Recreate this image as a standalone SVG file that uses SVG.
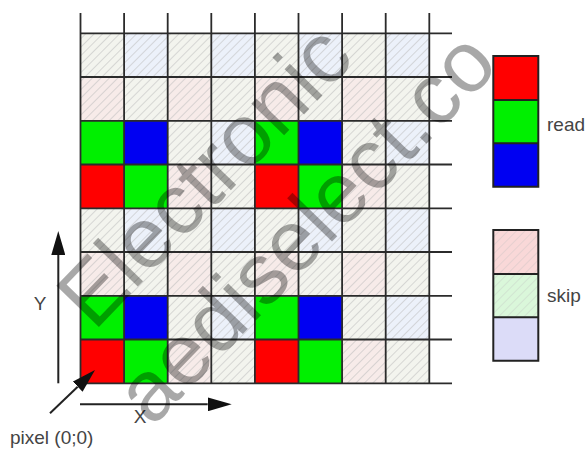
<svg xmlns="http://www.w3.org/2000/svg" width="587" height="450" viewBox="0 0 587 450">
<style>
.lbl{font-family:"Liberation Sans",Arial,sans-serif;font-size:19px;fill:#444}
.gl{stroke:#2b2b2b;stroke-width:1.8;fill:none}
.ax{stroke:#222;stroke-width:2;fill:none}
.fR{fill:#f7ebe9}.fG{fill:#f3f4ee}.fB{fill:#ecf1fa}
.sR{fill:#ff0000}.sG{fill:#00f000}.sB{fill:#0000f2}
.lR{fill:#f9d8d8}.lG{fill:#daf7da}.lB{fill:#dcdcf8}
.box{fill:none;stroke:#222;stroke-width:2}
.wm{font-family:"Liberation Sans",Arial,sans-serif;font-size:86px;fill:#000;fill-opacity:0.34}
</style>
<defs>
<pattern id="hatch" patternUnits="userSpaceOnUse" width="6" height="6" patternTransform="rotate(45)">
<line x1="0" y1="0" x2="0" y2="6" stroke="#bdbdbd" stroke-width="1.1"/>
</pattern>
<marker id="ah" markerUnits="userSpaceOnUse" viewBox="0 -7 24 14" markerWidth="24" markerHeight="14" refX="0" refY="0" orient="auto">
<path d="M0,-7 L24,0 L0,7 Z" fill="#111"/>
</marker>
</defs>
<rect width="587" height="450" fill="#fff"/>
<g id="grid">
<g id="tints">
<rect class="fG" x="80.5" y="33.3" width="43.6" height="43.75"/><rect class="fB" x="124.1" y="33.3" width="43.6" height="43.75"/><rect class="fG" x="167.7" y="33.3" width="43.6" height="43.75"/><rect class="fB" x="211.3" y="33.3" width="43.6" height="43.75"/><rect class="fG" x="254.9" y="33.3" width="43.6" height="43.75"/><rect class="fB" x="298.5" y="33.3" width="43.6" height="43.75"/><rect class="fG" x="342.1" y="33.3" width="43.6" height="43.75"/><rect class="fB" x="385.7" y="33.3" width="43.6" height="43.75"/>
<rect class="fR" x="80.5" y="77" width="43.6" height="43.8"/><rect class="fG" x="124.1" y="77" width="43.6" height="43.8"/><rect class="fR" x="167.7" y="77" width="43.6" height="43.8"/><rect class="fG" x="211.3" y="77" width="43.6" height="43.8"/><rect class="fR" x="254.9" y="77" width="43.6" height="43.8"/><rect class="fG" x="298.5" y="77" width="43.6" height="43.8"/><rect class="fR" x="342.1" y="77" width="43.6" height="43.8"/><rect class="fG" x="385.7" y="77" width="43.6" height="43.8"/>
<rect class="fG" x="167.7" y="120.8" width="43.6" height="43.7"/><rect class="fB" x="211.3" y="120.8" width="43.6" height="43.7"/><rect class="fG" x="342.1" y="120.8" width="43.6" height="43.7"/><rect class="fB" x="385.7" y="120.8" width="43.6" height="43.7"/>
<rect class="fR" x="167.7" y="164.5" width="43.6" height="43.8"/><rect class="fG" x="211.3" y="164.5" width="43.6" height="43.8"/><rect class="fR" x="342.1" y="164.5" width="43.6" height="43.8"/><rect class="fG" x="385.7" y="164.5" width="43.6" height="43.8"/>
<rect class="fG" x="80.5" y="208.3" width="43.6" height="43.7"/><rect class="fB" x="124.1" y="208.3" width="43.6" height="43.7"/><rect class="fG" x="167.7" y="208.3" width="43.6" height="43.7"/><rect class="fB" x="211.3" y="208.3" width="43.6" height="43.7"/><rect class="fG" x="254.9" y="208.3" width="43.6" height="43.7"/><rect class="fB" x="298.5" y="208.3" width="43.6" height="43.7"/><rect class="fG" x="342.1" y="208.3" width="43.6" height="43.7"/><rect class="fB" x="385.7" y="208.3" width="43.6" height="43.7"/>
<rect class="fR" x="80.5" y="252" width="43.6" height="43.8"/><rect class="fG" x="124.1" y="252" width="43.6" height="43.8"/><rect class="fR" x="167.7" y="252" width="43.6" height="43.8"/><rect class="fG" x="211.3" y="252" width="43.6" height="43.8"/><rect class="fR" x="254.9" y="252" width="43.6" height="43.8"/><rect class="fG" x="298.5" y="252" width="43.6" height="43.8"/><rect class="fR" x="342.1" y="252" width="43.6" height="43.8"/><rect class="fG" x="385.7" y="252" width="43.6" height="43.8"/>
<rect class="fG" x="167.7" y="295.8" width="43.6" height="43.7"/><rect class="fB" x="211.3" y="295.8" width="43.6" height="43.7"/><rect class="fG" x="342.1" y="295.8" width="43.6" height="43.7"/><rect class="fB" x="385.7" y="295.8" width="43.6" height="43.7"/>
<rect class="fR" x="167.7" y="339.5" width="43.6" height="43.8"/><rect class="fG" x="211.3" y="339.5" width="43.6" height="43.8"/><rect class="fR" x="342.1" y="339.5" width="43.6" height="43.8"/><rect class="fG" x="385.7" y="339.5" width="43.6" height="43.8"/>
</g>
<rect x="80.5" y="33.3" width="348.8" height="350" fill="url(#hatch)"/>
<g id="read-cells">
<rect class="sG" x="80.5" y="120.8" width="43.6" height="43.7"/><rect class="sB" x="124.1" y="120.8" width="43.6" height="43.7"/><rect class="sG" x="254.9" y="120.8" width="43.6" height="43.7"/><rect class="sB" x="298.5" y="120.8" width="43.6" height="43.7"/>
<rect class="sR" x="80.5" y="164.5" width="43.6" height="43.8"/><rect class="sG" x="124.1" y="164.5" width="43.6" height="43.8"/><rect class="sR" x="254.9" y="164.5" width="43.6" height="43.8"/><rect class="sG" x="298.5" y="164.5" width="43.6" height="43.8"/>
<rect class="sG" x="80.5" y="295.8" width="43.6" height="43.7"/><rect class="sB" x="124.1" y="295.8" width="43.6" height="43.7"/><rect class="sG" x="254.9" y="295.8" width="43.6" height="43.7"/><rect class="sB" x="298.5" y="295.8" width="43.6" height="43.7"/>
<rect class="sR" x="80.5" y="339.5" width="43.6" height="43.8"/><rect class="sG" x="124.1" y="339.5" width="43.6" height="43.8"/><rect class="sR" x="254.9" y="339.5" width="43.6" height="43.8"/><rect class="sG" x="298.5" y="339.5" width="43.6" height="43.8"/>
</g>
<g id="grid-lines" class="gl">
<path d="M80.5,13V383.3M124.1,13V383.3M167.7,13V383.3M211.3,13V383.3M254.9,13V383.3M298.5,13V383.3M342.1,13V383.3M385.7,13V383.3M429.3,13V383.3"/>
<path d="M80.5,33.3H452M80.5,77H452M80.5,120.8H452M80.5,164.5H452M80.5,208.3H452M80.5,252H452M80.5,295.8H452M80.5,339.5H452M80.5,383.3H452"/>
</g>
</g>
<g id="legend-read">
<rect class="sR" x="493.3" y="56" width="45" height="44"/>
<rect class="sG" x="493.3" y="100" width="45" height="43.3"/>
<rect class="sB" x="493.3" y="143.3" width="45" height="43.4"/>
<path class="box" d="M493.3,56H538.3V186.7H493.3Z M493.3,100H538.3 M493.3,143.3H538.3"/>
<text class="lbl" x="547" y="130.5">read</text>
</g>
<g id="legend-skip">
<rect class="lR" x="493.3" y="230" width="45" height="44"/>
<rect class="lG" x="493.3" y="274" width="45" height="43.3"/>
<rect class="lB" x="493.3" y="317.3" width="45" height="43.4"/>
<rect x="493.3" y="230" width="45" height="87.3" fill="url(#hatch)" opacity="0.6"/>
<path class="box" d="M493.3,230H538.3V360.7H493.3Z M493.3,274H538.3 M493.3,317.3H538.3"/>
<text class="lbl" x="547" y="302">skip</text>
</g>
<g id="connectors" class="ax">
<line x1="58.3" y1="383.3" x2="58.3" y2="255" marker-end="url(#ah)"/>
<line x1="80" y1="404.3" x2="207.7" y2="404.3" marker-end="url(#ah)"/>
<line x1="50" y1="413.3" x2="77.7" y2="386.7" marker-end="url(#ah)"/>
</g>
<g id="labels">
<text class="lbl" x="40" y="310" text-anchor="middle">Y</text>
<text class="lbl" x="140" y="423" text-anchor="middle">X</text>
<text class="lbl" x="10" y="444">pixel (0;0)</text>
</g>
<g id="watermark">
<text class="wm" transform="translate(94,332) rotate(-46)">Electronic</text>
<text class="wm" transform="translate(152,428) rotate(-46)">aediselect.co</text>
</g>
</svg>
